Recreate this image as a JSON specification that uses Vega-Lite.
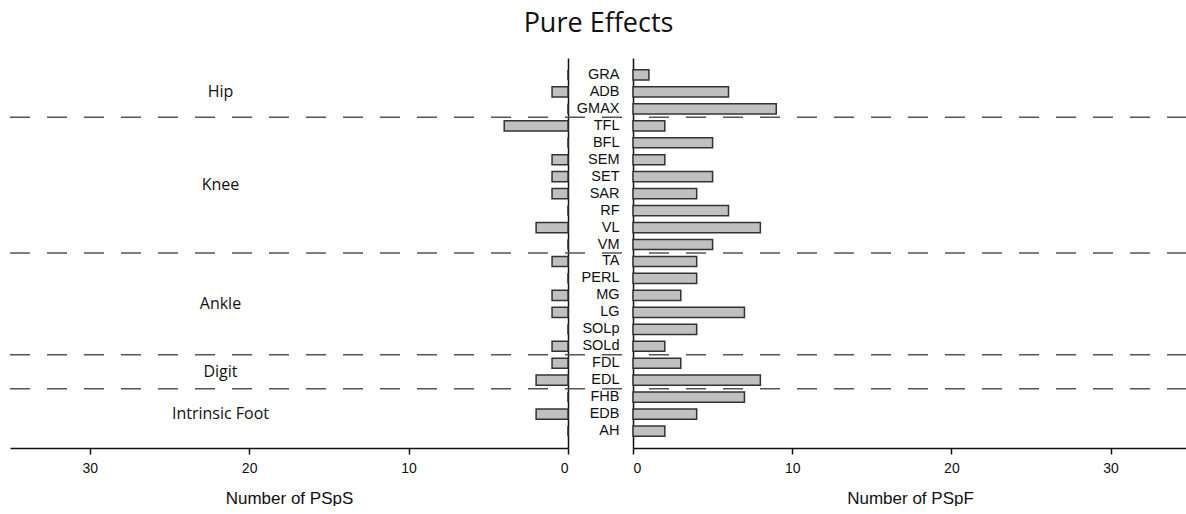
{
  "$schema": "https://vega.github.io/schema/vega-lite/v6.json",
  "padding": {"left": 9, "top": 10, "right": 0, "bottom": 0},
  "background": "white",
  "title": {"text": "Pure Effects", "fontSize": 27, "font": "Open Sans", "fontWeight": "normal", "color": "#111", "anchor": "middle", "offset": 20},
  "datasets": {
    "muscles": [
      {"muscle": "GRA", "group": "Hip", "PSpS": 0, "PSpF": 1},
      {"muscle": "ADB", "group": "Hip", "PSpS": 1, "PSpF": 6},
      {"muscle": "GMAX", "group": "Hip", "PSpS": 0, "PSpF": 9},
      {"muscle": "TFL", "group": "Knee", "PSpS": 4, "PSpF": 2},
      {"muscle": "BFL", "group": "Knee", "PSpS": 0, "PSpF": 5},
      {"muscle": "SEM", "group": "Knee", "PSpS": 1, "PSpF": 2},
      {"muscle": "SET", "group": "Knee", "PSpS": 1, "PSpF": 5},
      {"muscle": "SAR", "group": "Knee", "PSpS": 1, "PSpF": 4},
      {"muscle": "RF", "group": "Knee", "PSpS": 0, "PSpF": 6},
      {"muscle": "VL", "group": "Knee", "PSpS": 2, "PSpF": 8},
      {"muscle": "VM", "group": "Knee", "PSpS": 0, "PSpF": 5},
      {"muscle": "TA", "group": "Ankle", "PSpS": 1, "PSpF": 4},
      {"muscle": "PERL", "group": "Ankle", "PSpS": 0, "PSpF": 4},
      {"muscle": "MG", "group": "Ankle", "PSpS": 1, "PSpF": 3},
      {"muscle": "LG", "group": "Ankle", "PSpS": 1, "PSpF": 7},
      {"muscle": "SOLp", "group": "Ankle", "PSpS": 0, "PSpF": 4},
      {"muscle": "SOLd", "group": "Ankle", "PSpS": 1, "PSpF": 2},
      {"muscle": "FDL", "group": "Digit", "PSpS": 1, "PSpF": 3},
      {"muscle": "EDL", "group": "Digit", "PSpS": 2, "PSpF": 8},
      {"muscle": "FHB", "group": "Intrinsic Foot", "PSpS": 0, "PSpF": 7},
      {"muscle": "EDB", "group": "Intrinsic Foot", "PSpS": 2, "PSpF": 4},
      {"muscle": "AH", "group": "Intrinsic Foot", "PSpS": 0, "PSpF": 2}
    ],
    "boundaries": [
      {"muscle": "TFL"}, {"muscle": "TA"}, {"muscle": "FDL"}, {"muscle": "FHB"}
    ],
    "groupsMid": [
      {"label": "Hip", "muscle": "ADB"},
      {"label": "Intrinsic Foot", "muscle": "EDB"}
    ],
    "groupsEdge": [
      {"label": "Knee", "muscle": "SET"},
      {"label": "Ankle", "muscle": "MG"},
      {"label": "Digit", "muscle": "FDL"}
    ]
  },
  "bounds": "flush",
  "spacing": 65,
  "config": {
    "view": {"stroke": null},
    "axis": {"grid": false, "domainColor": "#111", "domainWidth": 1.5, "tickColor": "#111", "tickWidth": 1.5, "labelFont": "Liberation Sans", "labelColor": "#111", "labelFontSize": 14, "titleFont": "Liberation Sans", "titleColor": "#111", "titleFontWeight": "normal", "titleFontSize": 17},
    "axisX": {"tickSize": 6, "labelPadding": 7, "titlePadding": 15, "labelFontSize": 14},
    "axisY": {"ticks": false, "labelPadding": 14, "labelFontSize": 14.5}
  },
  "hconcat": [
    {
      "width": 558,
      "height": 390,
      "layer": [
        {
          "data": {"name": "muscles"},
          "mark": {"type": "bar", "fill": "#c0c0c0", "stroke": "#333", "strokeWidth": 1.5, "height": {"band": 0.6}},
          "encoding": {
            "y": {"field": "muscle", "type": "nominal", "sort": null,
                  "scale": {"domain": ["GRA","ADB","GMAX","TFL","BFL","SEM","SET","SAR","RF","VL","VM","TA","PERL","MG","LG","SOLp","SOLd","FDL","EDL","FHB","EDB","AH"], "paddingInner": 0, "paddingOuter": 0.5},
                  "axis": {"orient": "right", "labels": false, "ticks": false, "title": null}},
            "x": {"field": "PSpS", "type": "quantitative",
                  "scale": {"domain": [0, 35], "reverse": true, "nice": false},
                  "axis": {"values": [0, 10, 20, 30], "title": "Number of PSpS"}}
          }
        },
        {
          "data": {"name": "boundaries"},
          "mark": {"type": "rule", "strokeDash": [20, 17], "color": "#555", "strokeWidth": 1.5},
          "encoding": {
            "y": {"field": "muscle", "type": "nominal", "bandPosition": 0, "sort": null},
            "x": {"datum": 35, "type": "quantitative"},
            "x2": {"datum": -4.1}
          }
        },
        {
          "data": {"name": "groupsMid"},
          "mark": {"type": "text", "font": "Open Sans", "fontSize": 16, "color": "#111", "align": "center", "baseline": "middle"},
          "encoding": {
            "y": {"field": "muscle", "type": "nominal", "bandPosition": 0.5, "sort": null},
            "x": {"datum": 21.8, "type": "quantitative"},
            "text": {"field": "label"}
          }
        },
        {
          "data": {"name": "groupsEdge"},
          "mark": {"type": "text", "font": "Open Sans", "fontSize": 16, "color": "#111", "align": "center", "baseline": "middle"},
          "encoding": {
            "y": {"field": "muscle", "type": "nominal", "bandPosition": 1, "sort": null},
            "x": {"datum": 21.8, "type": "quantitative"},
            "text": {"field": "label"}
          }
        }
      ]
    },
    {
      "width": 554,
      "height": 390,
      "layer": [
        {
          "data": {"name": "muscles"},
          "mark": {"type": "bar", "fill": "#c0c0c0", "stroke": "#333", "strokeWidth": 1.5, "height": {"band": 0.6}},
          "encoding": {
            "y": {"field": "muscle", "type": "nominal", "sort": null,
                  "scale": {"domain": ["GRA","ADB","GMAX","TFL","BFL","SEM","SET","SAR","RF","VL","VM","TA","PERL","MG","LG","SOLp","SOLd","FDL","EDL","FHB","EDB","AH"], "paddingInner": 0, "paddingOuter": 0.5},
                  "axis": {"orient": "left", "title": null}},
            "x": {"field": "PSpF", "type": "quantitative",
                  "scale": {"domain": [0, 34.8], "nice": false},
                  "axis": {"values": [0, 10, 20, 30], "title": "Number of PSpF"}}
          }
        },
        {
          "data": {"name": "boundaries"},
          "mark": {"type": "rule", "strokeDash": [20, 17], "color": "#555", "strokeWidth": 1.5},
          "encoding": {
            "y": {"field": "muscle", "type": "nominal", "bandPosition": 0, "sort": null}
          }
        }
      ]
    }
  ]
}
